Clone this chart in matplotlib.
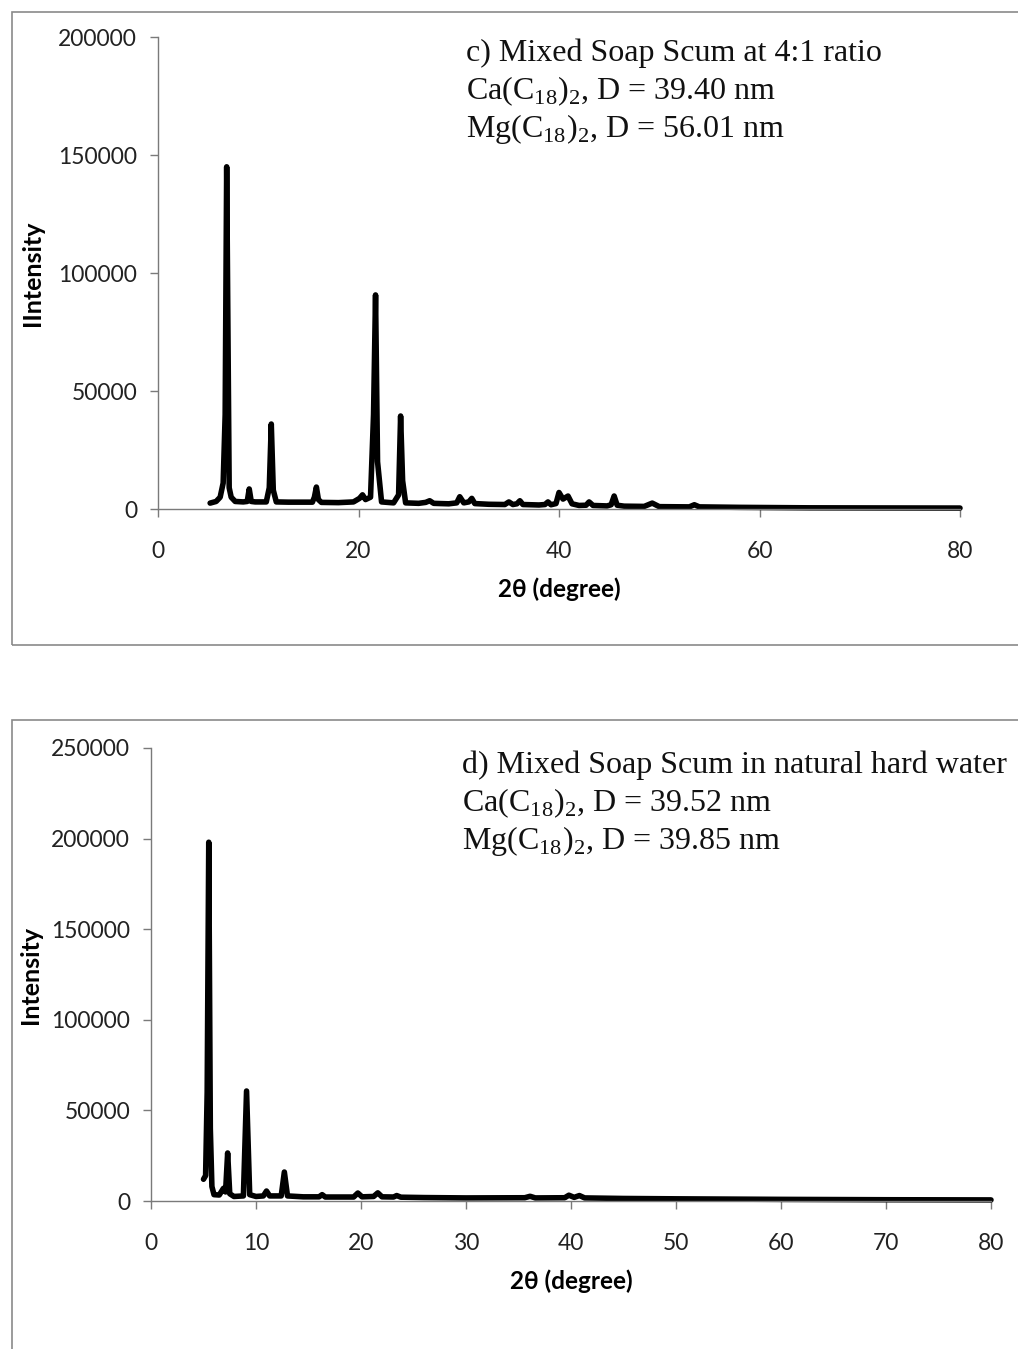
"""
xrd_soap_scum.py - XRD patterns of mixed soap scum (panels c and d).
"""

import matplotlib
matplotlib.use('Agg')
import matplotlib.pyplot as plt
from matplotlib.patches import Rectangle

# --- panel c) mixed soap scum at 4:1 ratio (2theta in degree, intensity) ---
C_TWO_THETA = [
    5.2, 5.8, 6.2, 6.5, 6.7, 6.85, 6.95, 7.1, 7.3, 7.7, 8.5, 8.9, 9.1, 9.3, 9.7,
    10.8, 11.1, 11.3, 11.5, 11.8, 13.0, 15.4, 15.6, 15.8, 16.0, 16.3, 18.0,
    19.5, 20.1, 20.4, 20.7, 21.2, 21.5, 21.7, 21.9, 22.3, 23.5, 24.0, 24.2,
    24.4, 24.7, 26.0, 26.7, 27.1, 27.5, 28.2, 29.0, 29.8, 30.1, 30.5, 31.0,
    31.3, 31.6, 33.0, 34.6, 35.0, 35.4, 35.8, 36.1, 36.4, 38.0, 38.6, 38.9,
    39.2, 39.7, 40.0, 40.4, 40.9, 41.3, 42.0, 42.7, 43.0, 43.4, 44.8, 45.2,
    45.5, 45.8, 46.5, 48.5, 49.3, 50.0, 53.0, 53.5, 54.0, 58.0, 65.0, 72.0, 80.0,
]
C_INTENSITY = [
    2500, 3200, 5000, 11000, 40000, 145000, 90000, 9000, 5000, 3200, 3000, 3200, 8500, 3200, 3000,
    3000, 9000, 36000, 8000, 3000, 2900, 2900, 5000, 9300, 4000, 2800, 2700,
    3000, 4500, 6000, 4000, 5000, 40000, 90700, 20000, 3000, 2600, 6000, 39400,
    12000, 2600, 2400, 2800, 3500, 2400, 2300, 2200, 2600, 5200, 2600, 3000,
    4500, 2300, 2000, 1900, 3000, 1900, 2200, 3500, 1900, 1700, 1900, 3000,
    1800, 2300, 7000, 4200, 5500, 2200, 1500, 1600, 3000, 1500, 1300, 1800,
    5500, 1600, 1200, 1100, 2500, 1000, 900, 1800, 900, 700, 500, 450, 400,
]

# --- panel d) mixed soap scum in natural hard water ---
D_TWO_THETA = [
    5.0, 5.2, 5.35, 5.5, 5.65, 5.8, 6.0, 6.5, 6.9, 7.1, 7.3, 7.5, 7.9, 8.8,
    9.1, 9.4, 10.0, 10.7, 11.0, 11.3, 12.4, 12.7, 13.0, 14.5, 16.0, 16.3,
    16.6, 19.3, 19.7, 20.1, 21.2, 21.6, 22.0, 23.1, 23.4, 23.8, 26.0, 30.0,
    35.6, 36.1, 36.6, 39.4, 39.8, 40.3, 40.8, 41.3, 45.0, 50.0, 60.0, 70.0, 80.0,
]
D_INTENSITY = [
    12000, 14000, 60000, 198000, 40000, 8000, 3500, 3300, 7000, 5000, 26500, 4000, 2500, 2800,
    60700, 3500, 2500, 2800, 5500, 2800, 2800, 16000, 2800, 2300, 2300, 3500,
    2200, 2200, 4400, 2300, 2500, 4500, 2300, 2200, 3000, 2100, 1900, 1700,
    1800, 2600, 1700, 1800, 3200, 2000, 3000, 1700, 1400, 1200, 900, 700, 600,
]

C_LINES = [
    'c) Mixed Soap Scum at 4:1 ratio',
    r'Ca(C$_\mathregular{18}$)$_\mathregular{2}$, D = 39.40 nm',
    r'Mg(C$_\mathregular{18}$)$_\mathregular{2}$, D = 56.01 nm',
]
D_LINES = [
    'd) Mixed Soap Scum in natural hard water',
    r'Ca(C$_\mathregular{18}$)$_\mathregular{2}$, D = 39.52 nm',
    r'Mg(C$_\mathregular{18}$)$_\mathregular{2}$, D = 39.85 nm',
]

W, H = 1018, 1349
TICK_FONT = 'Lato'
SERIF = 'Liberation Serif'


def px_box(x0, y0, x1, y1):
    """Pixel box (top-left origin) -> figure rect [l, b, w, h]."""
    return [x0 / W, 1 - y1 / H, (x1 - x0) / W, (y1 - y0) / H]


def style_axes(ax, xmax, xstep, ymax, ystep, ylabel):
    for side in ('top', 'right'):
        ax.spines[side].set_visible(False)
    for side in ('left', 'bottom'):
        ax.spines[side].set_color('#7a7a7a')
        ax.spines[side].set_linewidth(1.0)
    ax.set_xlim(0, xmax)
    ax.set_ylim(0, ymax)
    ax.set_xticks(range(0, xmax + 1, xstep))
    ax.set_yticks(range(0, ymax + 1, ystep))
    ax.tick_params(direction='out', length=6, width=1.0, color='#7a7a7a',
                   labelsize=16.5, labelcolor='#222222')
    ax.tick_params(axis='x', pad=17)
    ax.tick_params(axis='y', pad=9)
    for lab in ax.get_xticklabels() + ax.get_yticklabels():
        lab.set_fontfamily(TICK_FONT)
    ax.set_xlabel('2θ (degree)', fontsize=17.5, fontweight='bold',
                  family=['Lato', 'DejaVu Sans'], labelpad=11)
    ax.set_ylabel(ylabel, fontsize=18, fontweight='bold', family=TICK_FONT)


plt.rcParams['mathtext.fontset'] = 'custom'
plt.rcParams['mathtext.rm'] = SERIF

fig = plt.figure(figsize=(W / 100, H / 100), dpi=100)

# frames around each panel
fig.patches.append(Rectangle((12 / W, 1 - 645 / H), 1.2, (645 - 12) / H,
                             transform=fig.transFigure, fill=False,
                             edgecolor='#8a8a8a', linewidth=1.2))
fig.patches.append(Rectangle((12 / W, -0.05), 1.2, 0.05 + 1 - 720 / H,
                             transform=fig.transFigure, fill=False,
                             edgecolor='#8a8a8a', linewidth=1.2))

ax1 = fig.add_axes(px_box(158, 37, 960, 509))
ax1.plot(C_TWO_THETA, C_INTENSITY, color='black', linewidth=4,
         solid_joinstyle='round', solid_capstyle='round', clip_on=False)
style_axes(ax1, 80, 20, 200000, 50000, 'IIntensity')
ax1.yaxis.set_label_coords(-0.142, 0.5)

ax2 = fig.add_axes(px_box(151, 748, 991, 1201))
ax2.plot(D_TWO_THETA, D_INTENSITY, color='black', linewidth=4,
         solid_joinstyle='round', solid_capstyle='round', clip_on=False)
style_axes(ax2, 80, 10, 250000, 50000, 'Intensity')
ax2.yaxis.set_label_coords(-0.13, 0.5)

for i, line in enumerate(C_LINES):
    fig.text(466 / W, 1 - (53 + 38 * i) / H, line, family=SERIF, fontsize=23,
             va='center', ha='left', color='#111111')
for i, line in enumerate(D_LINES):
    fig.text(462 / W, 1 - (765 + 38 * i) / H, line, family=SERIF, fontsize=23,
             va='center', ha='left', color='#111111')

fig.savefig('out.png', dpi=100)
